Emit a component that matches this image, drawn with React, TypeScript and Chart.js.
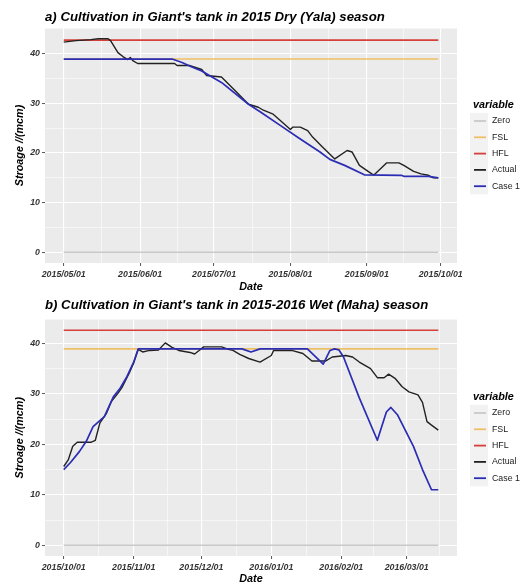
import React, { useEffect, useRef } from "react";
import { Chart, registerables } from "chart.js";
Chart.register(...registerables);

const FONT = "'Liberation Sans', Arial, Helvetica, sans-serif";

// ---- labels ----
const seriesNames = ["Zero", "FSL", "HFL", "Actual", "Case 1"];
const seriesColors = ["#C9C9C9", "#EEC064", "#D63F3A", "#222222", "#2B2DB3"];
const seriesWidths = [1.5, 1.6, 1.6, 1.4, 1.7];
const legendTitle = "variable";
const xTitle = "Date";
const yTitle = "Stroage //(mcm)";
const yTickValues = [0, 10, 20, 30, 40];

// ---- panel a: 2015 Dry (Yala) ----
const aTitle = "a) Cultivation in Giant's tank in 2015 Dry (Yala) season";
const aStart = "2015-05-01";
const aEnd = "2015-09-30";
const aTickDates = ["2015-05-01", "2015-06-01", "2015-07-01", "2015-08-01", "2015-09-01", "2015-10-01"];
const aLevels = [0, 38.9, 42.7]; // Zero, FSL, HFL
const aActualDates = [
  "2015-05-01", "2015-05-06", "2015-05-12", "2015-05-15", "2015-05-19", "2015-05-20", "2015-05-23",
  "2015-05-25", "2015-05-27", "2015-05-28", "2015-05-29", "2015-05-31", "2015-06-15", "2015-06-16",
  "2015-06-21", "2015-06-26", "2015-06-28", "2015-07-04", "2015-07-09", "2015-07-15", "2015-07-19",
  "2015-07-21", "2015-07-25", "2015-07-28", "2015-08-01", "2015-08-02", "2015-08-05", "2015-08-08",
  "2015-08-10", "2015-08-14", "2015-08-19", "2015-08-24", "2015-08-26", "2015-08-29", "2015-09-03",
  "2015-09-04", "2015-09-09", "2015-09-14", "2015-09-16", "2015-09-20", "2015-09-23", "2015-09-26",
  "2015-09-28", "2015-09-30",
];
const aActualValues = [
  42.3, 42.6, 42.8, 43.0, 43.0, 42.6, 40.2,
  39.4, 38.8, 39.2, 38.6, 38.0, 38.0, 37.6,
  37.6, 36.8, 35.6, 35.3, 32.8, 29.8, 29.2,
  28.6, 27.8, 26.5, 24.7, 25.2, 25.2, 24.5,
  23.2, 21.2, 18.8, 20.5, 20.2, 17.5, 15.8,
  15.6, 18.0, 18.0, 17.5, 16.3, 15.8, 15.5,
  15.0, 15.0,
];
const aCaseDates = [
  "2015-05-01", "2015-06-14", "2015-06-18", "2015-06-22", "2015-06-26", "2015-07-04", "2015-07-15",
  "2015-07-20", "2015-07-28", "2015-08-05", "2015-08-13", "2015-08-17", "2015-08-23", "2015-08-31",
  "2015-09-15", "2015-09-16", "2015-09-26", "2015-09-30",
];
const aCaseValues = [
  38.9, 38.9, 38.2, 37.3, 36.5, 34.2, 29.8,
  28.2, 25.5, 22.8, 20.2, 18.7, 17.5, 15.6,
  15.5, 15.3, 15.3, 15.0,
];

// ---- panel b: 2015-2016 Wet (Maha) ----
const bTitle = "b) Cultivation in Giant's tank in 2015-2016 Wet (Maha) season";
const bStart = "2015-10-01";
const bEnd = "2016-03-15";
const bTickDates = ["2015-10-01", "2015-11-01", "2015-12-01", "2016-01-01", "2016-02-01", "2016-03-01"];
const bLevels = [0, 38.9, 42.6];
const bActualDates = [
  "2015-10-01", "2015-10-03", "2015-10-05", "2015-10-07", "2015-10-13", "2015-10-15", "2015-10-17",
  "2015-10-20", "2015-10-22", "2015-10-25", "2015-10-27", "2015-10-30", "2015-11-01", "2015-11-03",
  "2015-11-05", "2015-11-08", "2015-11-12", "2015-11-15", "2015-11-18", "2015-11-21", "2015-11-26",
  "2015-11-28", "2015-11-30", "2015-12-02", "2015-12-10", "2015-12-13", "2015-12-15", "2015-12-18",
  "2015-12-22", "2015-12-27", "2016-01-01", "2016-01-02", "2016-01-10", "2016-01-15", "2016-01-19",
  "2016-01-25", "2016-01-28", "2016-02-03", "2016-02-06", "2016-02-09", "2016-02-14", "2016-02-17",
  "2016-02-20", "2016-02-22", "2016-02-25", "2016-02-28", "2016-03-02", "2016-03-06", "2016-03-08",
  "2016-03-10", "2016-03-12", "2016-03-15",
];
const bActualValues = [
  15.6, 16.9, 19.6, 20.4, 20.4, 20.8, 24.2,
  26.2, 28.4, 30.1, 31.4, 34.1, 36.1, 38.8,
  38.3, 38.6, 38.7, 40.1, 39.2, 38.6, 38.2,
  37.9, 38.6, 39.3, 39.3, 38.8, 38.6, 37.8,
  37.0, 36.3, 37.6, 38.6, 38.6, 38.0, 36.5,
  36.5, 37.3, 37.6, 37.3, 36.3, 35.0, 33.2,
  33.2, 33.9, 33.0, 31.4, 30.4, 29.8, 28.3,
  24.5, 23.8, 22.8,
];
const bCaseDates = [
  "2015-10-01", "2015-10-04", "2015-10-08", "2015-10-11", "2015-10-14", "2015-10-19", "2015-10-23",
  "2015-10-26", "2015-10-29", "2015-11-01", "2015-11-03", "2015-12-19", "2015-12-23", "2015-12-27",
  "2016-01-17", "2016-01-24", "2016-01-27", "2016-01-29", "2016-01-31", "2016-02-02", "2016-02-09",
  "2016-02-17", "2016-02-21", "2016-02-23", "2016-02-26", "2016-03-04", "2016-03-08", "2016-03-12",
  "2016-03-15",
];
const bCaseValues = [
  15.0, 16.4, 18.6, 20.6, 23.5, 25.5, 29.4,
  31.1, 33.4, 36.3, 38.9, 38.9, 38.3, 38.9,
  38.9, 35.9, 38.6, 38.9, 38.7, 37.3, 29.2,
  20.8, 26.4, 27.3, 25.8, 19.6, 15.0, 11.0,
  11.0,
];

// ---- helpers ----
function dayNum(s: string): number {
  const [y, m, d] = s.split("-").map(Number);
  return Date.UTC(y, m - 1, d) / 86400000;
}
function pad2(n: number) {
  return n < 10 ? "0" + n : String(n);
}
function fmtDay(dn: number): string {
  const dt = new Date(Math.round(dn) * 86400000);
  return `${dt.getUTCFullYear()}/${pad2(dt.getUTCMonth() + 1)}/${pad2(dt.getUTCDate())}`;
}

interface PanelCfg {
  title: string;
  start: string;
  end: string;
  tickDates: string[];
  levels: number[];
  actualDates: string[];
  actualValues: number[];
  caseDates: string[];
  caseValues: number[];
  padTop: number;
  titleY: number;
  legendY: number;
  xAxisH: number;
  dateTitlePad: number;
}

function minorBetween(majors: number[], lo: number, hi: number): number[] {
  const out: number[] = [];
  if (majors.length < 2) return out;
  const ext = [majors[0] - (majors[1] - majors[0]), ...majors, majors[majors.length - 1] + (majors[majors.length - 1] - majors[majors.length - 2])];
  for (let i = 0; i < ext.length - 1; i++) {
    const m = (ext[i] + ext[i + 1]) / 2;
    if (m >= lo && m <= hi) out.push(m);
  }
  return out;
}

function buildChart(canvas: HTMLCanvasElement, p: PanelCfg): Chart {
  const x0 = dayNum(p.start);
  const x1 = dayNum(p.end);
  const xr = x1 - x0;
  const xMin = x0 - 0.05 * xr;
  const xMax = x1 + 0.05 * xr;

  const allY = [...p.levels, ...p.actualValues, ...p.caseValues];
  const yLo = Math.min(...allY);
  const yHi = Math.max(...allY);
  const yr = yHi - yLo;
  const yMin = yLo - 0.05 * yr;
  const yMax = yHi + 0.05 * yr;

  const xMajors = p.tickDates.map(dayNum).filter((v) => v >= xMin && v <= xMax);
  const xMinors = minorBetween(p.tickDates.map(dayNum), xMin, xMax);
  const yMajors = yTickValues.filter((v) => v >= yMin && v <= yMax);
  const yMinors = minorBetween(yTickValues, yMin, yMax);
  const xMajorSet = new Set(xMajors);
  const yMajorSet = new Set(yMajors);

  const lineData = [
    ...p.levels.map((lv) => [
      { x: x0, y: lv },
      { x: x1, y: lv },
    ]),
    p.actualDates.map((d, i) => ({ x: dayNum(d), y: p.actualValues[i] })),
    p.caseDates.map((d, i) => ({ x: dayNum(d), y: p.caseValues[i] })),
  ];

  const datasets = seriesNames.map((name, i) => ({
    label: name,
    data: lineData[i],
    borderColor: seriesColors[i],
    backgroundColor: seriesColors[i],
    borderWidth: seriesWidths[i],
    pointRadius: 0,
    pointHoverRadius: 0,
    tension: 0,
    fill: false,
    borderJoinStyle: "round" as const,
    order: seriesNames.length - i,
  }));

  const tickFont = { family: FONT, size: 8.8, weight: "bold" as const, style: "italic" as const };
  const titleFont = { family: FONT, size: 10.8, weight: "bold" as const, style: "italic" as const };

  const panelPlugin = {
    id: "ggpanel",
    beforeDraw(chart: any) {
      const { ctx, chartArea } = chart;
      ctx.save();
      ctx.fillStyle = "#FFFFFF";
      ctx.fillRect(0, 0, chart.width, chart.height);
      ctx.fillStyle = "#EBEBEB";
      ctx.fillRect(chartArea.left, chartArea.top, chartArea.right - chartArea.left, chartArea.bottom - chartArea.top);
      ctx.restore();
    },
    afterDraw(chart: any) {
      const { ctx, chartArea } = chart;
      ctx.save();
      // plot title
      ctx.font = `italic bold 13.2px ${FONT}`;
      ctx.fillStyle = "#000000";
      ctx.textAlign = "left";
      ctx.textBaseline = "middle";
      ctx.fillText(p.title, chartArea.left, p.titleY);
      // legend
      const lx = chartArea.right + 16;
      ctx.font = `italic bold 10.8px ${FONT}`;
      ctx.fillText(legendTitle, lx, p.legendY);
      const step = 16.3;
      const y0 = p.legendY + 16;
      ctx.fillStyle = "#F2F2F2";
      ctx.fillRect(lx - 3, y0 - step / 2, 18, step * seriesNames.length);
      seriesNames.forEach((name, i) => {
        const y = y0 + i * step;
        ctx.strokeStyle = seriesColors[i];
        ctx.lineWidth = 1.8;
        ctx.beginPath();
        ctx.moveTo(lx + 1, y);
        ctx.lineTo(lx + 13, y);
        ctx.stroke();
        ctx.fillStyle = "#1A1A1A";
        ctx.font = `8.8px ${FONT}`;
        ctx.fillText(name, lx + 19, y);
      });
      ctx.restore();
    },
  };

  return new Chart(canvas, {
    type: "line",
    data: { datasets: datasets as any },
    plugins: [panelPlugin],
    options: {
      animation: false,
      responsive: false,
      maintainAspectRatio: false,
      events: [],
      layout: { padding: { top: p.padTop, right: 65, bottom: 0, left: 0 } },
      plugins: {
        legend: { display: false },
        title: { display: false },
        tooltip: { enabled: false },
      },
      scales: {
        x: {
          type: "linear",
          min: xMin,
          max: xMax,
          bounds: "data",
          afterBuildTicks: (s: any) => {
            s.ticks = [...xMajors, ...xMinors].sort((a, b) => a - b).map((v) => ({ value: v }));
          },
          afterFit: (s: any) => {
            s.height = p.xAxisH;
          },
          ticks: {
            autoSkip: false,
            maxRotation: 0,
            minRotation: 0,
            padding: 3,
            font: tickFont,
            color: "#333333",
            callback: (v: any) => (xMajorSet.has(Number(v)) ? fmtDay(Number(v)) : ""),
          },
          grid: {
            color: "#FFFFFF",
            lineWidth: (c: any) => (c.tick && xMajorSet.has(c.tick.value) ? 1.1 : 0.55),
            tickLength: 3,
            tickWidth: 1,
            tickColor: (c: any) => (c.tick && xMajorSet.has(c.tick.value) ? "#555555" : "rgba(0,0,0,0)"),
          },
          border: { display: false },
          title: {
            display: true,
            text: xTitle,
            font: titleFont,
            color: "#000000",
            padding: { top: 0, bottom: p.dateTitlePad },
          },
        },
        y: {
          type: "linear",
          min: yMin,
          max: yMax,
          bounds: "data",
          afterBuildTicks: (s: any) => {
            s.ticks = [...yMajors, ...yMinors].sort((a, b) => a - b).map((v) => ({ value: v }));
          },
          afterFit: (s: any) => {
            s.width = 45;
          },
          ticks: {
            autoSkip: false,
            padding: 2,
            font: tickFont,
            color: "#333333",
            callback: (v: any) => (yMajorSet.has(Number(v)) ? String(v) : ""),
          },
          grid: {
            color: "#FFFFFF",
            lineWidth: (c: any) => (c.tick && yMajorSet.has(c.tick.value) ? 1.1 : 0.55),
            tickLength: 3,
            tickWidth: 1,
            tickColor: (c: any) => (c.tick && yMajorSet.has(c.tick.value) ? "#555555" : "rgba(0,0,0,0)"),
          },
          border: { display: false },
          title: {
            display: true,
            text: yTitle,
            font: titleFont,
            color: "#000000",
            padding: { top: 13.6, bottom: 0 },
          },
        },
      },
    } as any,
  });
}

const panelA: PanelCfg = {
  title: aTitle,
  start: aStart,
  end: aEnd,
  tickDates: aTickDates,
  levels: aLevels,
  actualDates: aActualDates,
  actualValues: aActualValues,
  caseDates: aCaseDates,
  caseValues: aCaseValues,
  padTop: 28,
  titleY: 17,
  legendY: 105,
  xAxisH: 31,
  dateTitlePad: 0.7,
};

const panelB: PanelCfg = {
  title: bTitle,
  start: bStart,
  end: bEnd,
  tickDates: bTickDates,
  levels: bLevels,
  actualDates: bActualDates,
  actualValues: bActualValues,
  caseDates: bCaseDates,
  caseValues: bCaseValues,
  padTop: 25.5,
  titleY: 11.5,
  legendY: 103,
  xAxisH: 32,
  dateTitlePad: 2.7,
};

function Panel({ cfg, top, height }: { cfg: PanelCfg; top: number; height: number }) {
  const ref = useRef<HTMLCanvasElement | null>(null);
  useEffect(() => {
    if (!ref.current) return;
    const chart = buildChart(ref.current, cfg);
    return () => chart.destroy();
  }, [cfg]);
  return (
    <canvas
      ref={ref}
      width={522}
      height={height}
      style={{ position: "absolute", left: 0, top, width: 522, height, display: "block" }}
    />
  );
}

export default function App() {
  return (
    <div
      style={{
        position: "absolute",
        left: 0,
        top: 0,
        width: 522,
        height: 584,
        overflow: "hidden",
        background: "#FFFFFF",
      }}
    >
      <Panel cfg={panelA} top={0} height={294} />
      <Panel cfg={panelB} top={294} height={294} />
    </div>
  );
}
